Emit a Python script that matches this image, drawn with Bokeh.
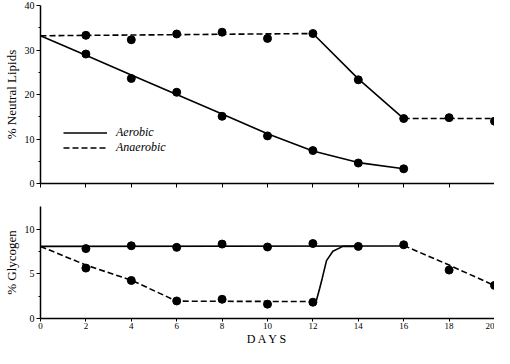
from bokeh.plotting import figure
from bokeh.layouts import column
from bokeh.models import FixedTicker, Range1d, Legend, LegendItem
from bokeh.embed import file_html
from bokeh.resources import INLINE

# ---- data ----
day_ticks = [0, 2, 4, 6, 8, 10, 12, 14, 16, 18, 20]

# Neutral lipids
lip_aer_days = [2, 4, 6, 8, 10, 12, 14, 16]
lip_aer = [29.1, 23.6, 20.5, 15.1, 10.7, 7.4, 4.6, 3.3]
lip_aer_fit_days = [0, 2, 4, 6, 8, 10, 12, 14, 16]
lip_aer_fit = [33.2, 28.8, 24.4, 20.0, 15.6, 11.2, 7.3, 4.7, 3.3]

lip_ana_days = [2, 4, 6, 8, 10, 12, 14, 16, 18, 20]
lip_ana = [33.3, 32.3, 33.6, 34.0, 32.6, 33.7, 23.3, 14.6, 14.8, 14.0]
lip_ana_fit1_days = [0, 12]
lip_ana_fit1 = [33.2, 33.7]
lip_ana_shift_days = [12, 14, 16]
lip_ana_shift = [33.7, 23.5, 14.6]
lip_ana_fit2_days = [16, 20]
lip_ana_fit2 = [14.6, 14.6]

# Glycogen
gly_aer_days = [2, 4, 6, 8, 10, 12, 14, 16, 18, 20]
gly_aer = [7.85, 8.17, 7.99, 8.36, 8.03, 8.42, 8.10, 8.28, 5.44, 3.72]
gly_aer_fit1_days = [0, 16]
gly_aer_fit1 = [8.1, 8.15]
gly_aer_fit2_days = [16, 18, 20]
gly_aer_fit2 = [8.2, 6.0, 3.7]

gly_ana_days = [2, 4, 6, 8, 10, 12]
gly_ana = [5.66, 4.27, 1.97, 2.16, 1.61, 1.83]
gly_ana_fit_days = [0, 2, 4, 6, 12]
gly_ana_fit = [8.1, 6.0, 4.3, 1.95, 1.9]
gly_ana_shift_days = [12, 12.15, 12.3, 12.41, 12.6, 12.88, 13.32, 14]
gly_ana_shift = [1.9, 2.0, 3.4, 4.5, 6.5, 7.55, 8.1, 8.1]

SERIF = "Liberation Serif"
DASH = "6 3"
LW = 1.6


def style(p, yticks, yminor, ylabel):
    p.outline_line_color = None
    p.xgrid.visible = False
    p.ygrid.visible = False
    p.background_fill_color = "white"
    p.xaxis.ticker = FixedTicker(ticks=day_ticks, minor_ticks=[])
    p.yaxis.ticker = FixedTicker(ticks=yticks, minor_ticks=yminor)
    for ax in (p.xaxis, p.yaxis):
        ax.axis_line_width = 1.5
        ax.axis_line_color = "black"
        ax.major_tick_line_color = "black"
        ax.minor_tick_line_color = "black"
        ax.major_tick_out = 4
        ax.major_tick_in = 0
        ax.minor_tick_out = 2
        ax.minor_tick_in = 0
        ax.major_label_text_font = SERIF
        ax.major_label_text_font_size = "10px"
        ax.major_label_text_color = "black"
        ax.major_label_standoff = 2
        ax.axis_label_text_font = SERIF
        ax.axis_label_text_font_style = "normal"
        ax.axis_label_text_color = "black"
    p.yaxis.axis_label = ylabel
    p.yaxis.axis_label_text_font_size = "13px"
    p.yaxis.axis_label_standoff = 3


# ---- top panel ----
p1 = figure(width=494, height=205, x_range=Range1d(0, 20), y_range=Range1d(0, 40),
            output_backend="svg", toolbar_location=None,
            min_border_left=34, min_border_right=0, min_border_top=5, min_border_bottom=22)
style(p1, [0, 10, 20, 30, 40], [5, 15, 25, 35], "% Neutral Lipids")
p1.xaxis.major_label_overrides = {t: "" for t in day_ticks}

r_aer = p1.line(lip_aer_fit_days, lip_aer_fit, line_color="black", line_width=LW)
r_ana = p1.line(lip_ana_fit1_days, lip_ana_fit1, line_color="black", line_width=LW, line_dash=DASH)
p1.line(lip_ana_shift_days, lip_ana_shift, line_color="black", line_width=LW)
p1.line(lip_ana_fit2_days, lip_ana_fit2, line_color="black", line_width=LW, line_dash=DASH)
p1.scatter(lip_aer_days, lip_aer, size=8, color="black")
p1.scatter(lip_ana_days, lip_ana, size=8, color="black")

legend = Legend(items=[LegendItem(label="Aerobic", renderers=[r_aer]),
                       LegendItem(label="Anaerobic", renderers=[r_ana])],
                location=(23, 28), padding=0, margin=0, spacing=0,
                glyph_width=44, glyph_height=11, label_height=11, label_standoff=9,
                label_text_font=SERIF, label_text_font_style="italic",
                label_text_font_size="12px", label_text_color="black",
                border_line_color=None, background_fill_alpha=0)
p1.add_layout(legend, "center")

# ---- bottom panel ----
p2 = figure(width=494, height=143, x_range=Range1d(0, 20), y_range=Range1d(0, 12.58),
            output_backend="svg", toolbar_location=None,
            min_border_left=34, min_border_right=0, min_border_top=1, min_border_bottom=27)
style(p2, [0, 5, 10], [2.5, 7.5], "% Glycogen")
p2.xaxis.axis_label = "D A Y S"
p2.xaxis.axis_label_text_font_size = "12px"
p2.xaxis.axis_label_standoff = 0
p2.xaxis.major_tick_out = 3
p2.xaxis.major_label_standoff = 1
p2.xaxis.major_label_text_font_size = "9px"

p2.line(gly_aer_fit1_days, gly_aer_fit1, line_color="black", line_width=LW)
p2.line(gly_aer_fit2_days, gly_aer_fit2, line_color="black", line_width=LW, line_dash=DASH)
p2.line(gly_ana_fit_days, gly_ana_fit, line_color="black", line_width=LW, line_dash=DASH)
p2.line(gly_ana_shift_days, gly_ana_shift, line_color="black", line_width=LW)
p2.scatter(gly_aer_days, gly_aer, size=8, color="black")
p2.scatter(gly_ana_days, gly_ana, size=8, color="black")

layout = column(p1, p2, spacing=0)
open("out.html", "w").write(file_html(layout, INLINE))
